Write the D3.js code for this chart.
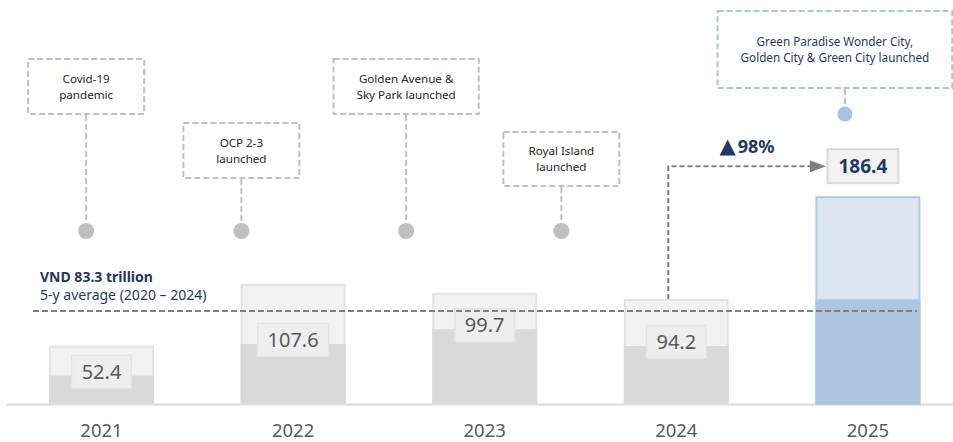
<!DOCTYPE html>
<html>
<head>
<meta charset="utf-8">
<script src="https://cdn.jsdelivr.net/npm/d3@7"></script>
<style>
  html, body { margin: 0; padding: 0; background: #ffffff; }
  svg { display: block; font-family: "Noto Sans", "DejaVu Sans", sans-serif; }
</style>
</head>
<body>
<script>
// ---------------- DATA ----------------
const years = ["2021", "2022", "2023", "2024", "2025"];
const totalValues = [52.4, 107.6, 99.7, 94.2, 186.4];
const lowerValues = [25.4, 53.8, 67.0, 52.0, 93.9];
const avgValue = 83.3;
const avgTitle = "VND 83.3 trillion";
const avgSubtitle = "5-y average (2020 – 2024)";
const eventLabels = [
  ["Covid-19", "pandemic"],
  ["OCP 2-3", "launched"],
  ["Golden Avenue &", "Sky Park launched"],
  ["Royal Island", "launched"],
  ["Green Paradise Wonder City,", "Golden City & Green City launched"]
];
const eventTimes = [2020.92, 2021.73, 2022.59, 2023.40, 2024.88];
const highlightYear = "2025";
const compareYear = "2024";

// ---------------- LAYOUT ----------------
const W = 953, H = 442;
const baseY = 404;
const eventBoxTop = [59, 123, 59, 132, 11];
const eventBoxH = [55, 55, 55, 54, 77];
const eventDotY = [231, 231, 231, 231, 114];
const eventBoxShift = [0, 0, 0, 0, -10];

const svg = d3.select("body").append("svg").attr("width", W).attr("height", H);

const x = d3.scaleBand().domain(years).range([5.7, 963.7]).paddingInner(0.452).paddingOuter(0.226);
const bw = x.bandwidth();
const cx = d => x(d) + bw / 2;
const y = d3.scaleLinear().domain([0, 200]).range([baseY, baseY - 223]);
const t = d3.scaleLinear().domain([2021, 2025]).range([cx("2021"), cx("2025")]);

const rows = years.map((yr, i) => ({ year: yr, total: totalValues[i], lower: lowerValues[i], hl: yr === highlightYear }));

// axis
const axis = svg.append("g").attr("transform", `translate(0,${baseY})`)
  .call(d3.axisBottom(x).tickSize(0).tickPadding(20));
axis.select(".domain").attr("stroke", "#d9d9d9").attr("stroke-width", 2);
axis.selectAll("text").attr("font-size", 18.5).attr("fill", "#595959")
  .attr("font-family", '"Noto Sans", sans-serif');

// bars
const bars = svg.append("g").selectAll("g").data(rows).join("g");
bars.append("rect")
  .attr("x", d => x(d.year) + 1).attr("width", bw - 2)
  .attr("y", d => y(d.total) + 1).attr("height", d => y(0) - y(d.total) - 1)
  .attr("fill", d => d.hl ? "#dce6f1" : "#f2f2f2")
  .attr("stroke", d => d.hl ? "#b4c9e3" : "#e3e3e3").attr("stroke-width", 2);
bars.append("rect")
  .attr("x", d => x(d.year)).attr("width", bw)
  .attr("y", d => y(d.lower)).attr("height", d => y(0) - y(d.lower))
  .attr("fill", d => d.hl ? "#adc5df" : "#d9d9d9");

// value label boxes (non highlighted)
rows.filter(d => !d.hl).forEach(d => {
  const g = svg.append("g");
  const cyv = y(d.lower) - 4;
  const txt = g.append("text").attr("x", cx(d.year)).attr("y", cyv + 7)
    .attr("text-anchor", "middle").attr("font-size", 20).attr("fill", "#595959")
    .text(d.total.toFixed(1));
  const tw = txt.node().getComputedTextLength();
  g.insert("rect", "text").attr("x", cx(d.year) - tw / 2 - 10).attr("y", cyv - 16.5)
    .attr("width", tw + 20).attr("height", 33)
    .attr("fill", "#eeeeee").attr("stroke", "#e4e4e4").attr("stroke-width", 1.5);
});

// highlighted label above bar
const hlRow = rows.find(d => d.hl);
const cmpRow = rows.find(d => d.year === compareYear);
const hlCy = y(hlRow.total) - 30;
{
  const g = svg.append("g");
  const txt = g.append("text").attr("x", cx(hlRow.year) - 5).attr("y", hlCy + 7)
    .attr("text-anchor", "middle").attr("font-size", 19).attr("font-weight", 700)
    .attr("fill", "#1f3864").text(hlRow.total.toFixed(1));
  const tw = txt.node().getComputedTextLength();
  g.insert("rect", "text").attr("x", cx(hlRow.year) - 5 - tw / 2 - 11).attr("y", hlCy - 17)
    .attr("width", tw + 22).attr("height", 34)
    .attr("fill", "#f2f2f2").attr("stroke", "#d9d9d9").attr("stroke-width", 2);
}

// growth arrow
const arrowX0 = cx(cmpRow.year) - 8;
const hlBoxLeft = cx(hlRow.year) - 5 - 37;
svg.append("path")
  .attr("d", `M${arrowX0},${y(cmpRow.total)} V${hlCy} H${hlBoxLeft - 15}`)
  .attr("fill", "none").attr("stroke", "#7f7f7f").attr("stroke-width", 2)
  .attr("stroke-dasharray", "5,3");
svg.append("path")
  .attr("d", `M${hlBoxLeft - 16},${hlCy - 6} L${hlBoxLeft},${hlCy} L${hlBoxLeft - 16},${hlCy + 6} Z`)
  .attr("fill", "#7f7f7f");
const growth = Math.round((hlRow.total / cmpRow.total - 1) * 100);
const gt = svg.append("text").attr("x", (arrowX0 + hlBoxLeft) / 2).attr("y", hlCy - 13)
  .attr("text-anchor", "middle").attr("font-weight", 700).attr("fill", "#1f3864");
gt.append("tspan").attr("font-size", 21).attr("font-family", '"DejaVu Sans", sans-serif').text("▲");
gt.append("tspan").attr("font-size", 18).attr("dx", 2).text(growth + "%");

// events
eventLabels.forEach((lines, i) => {
  const isHl = i === eventLabels.length - 1;
  const ex = t(eventTimes[i]);
  const col = isHl ? "#a9c3de" : "#bfbfbf";
  const g = svg.append("g");
  const top = eventBoxTop[i], h = eventBoxH[i];
  const bx = ex + eventBoxShift[i];
  const lh = 16;
  const fs = isHl ? 11.7 : 11.6;
  const texts = lines.map((s, k) => g.append("text")
    .attr("x", bx).attr("y", top + h / 2 + (k - (lines.length - 1) / 2) * lh + 4.2)
    .attr("text-anchor", "middle").attr("font-size", fs)
    .attr("fill", isHl ? "#1f3864" : "#262626").text(s));
  const maxW = d3.max(texts, tx => tx.node().getComputedTextLength());
  const w = Math.max(116, maxW + 46);
  g.insert("rect", "text").attr("x", bx - w / 2).attr("y", top).attr("width", w).attr("height", h)
    .attr("fill", "none").attr("stroke", col).attr("stroke-width", 2).attr("stroke-dasharray", "6,3");
  svg.append("line").attr("x1", ex).attr("x2", ex).attr("y1", top + h + 1).attr("y2", eventDotY[i])
    .attr("stroke", col).attr("stroke-width", 2).attr("stroke-dasharray", "6,3");
  svg.append("circle").attr("cx", ex).attr("cy", eventDotY[i]).attr("r", isHl ? 7.5 : 8).attr("fill", col);
});

// average line + label
svg.append("line").attr("x1", 33).attr("x2", 917).attr("y1", y(avgValue)).attr("y2", y(avgValue))
  .attr("stroke", "#7f7f7f").attr("stroke-width", 2).attr("stroke-dasharray", "6,3");
svg.append("text").attr("x", 40).attr("y", 282).attr("font-size", 14).attr("font-weight", 700)
  .attr("fill", "#1f3864").text(avgTitle);
svg.append("text").attr("x", 40).attr("y", 300).attr("font-size", 14)
  .attr("fill", "#1f3864").text(avgSubtitle);
</script>
</body>
</html>
